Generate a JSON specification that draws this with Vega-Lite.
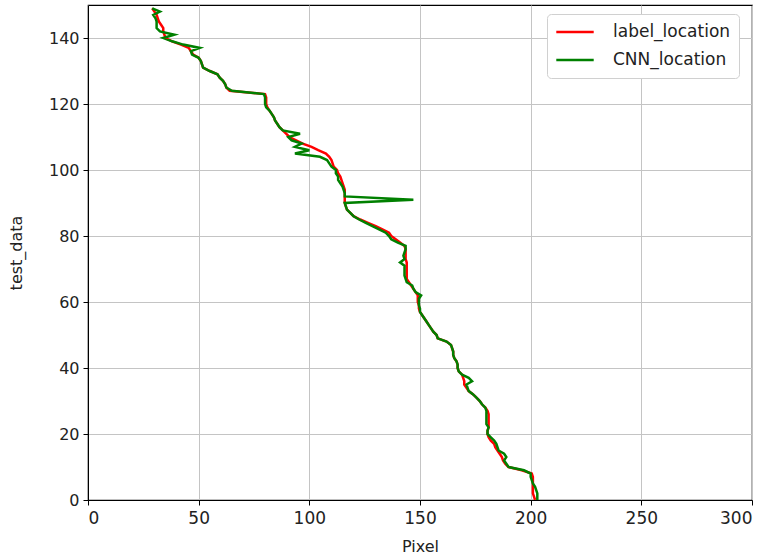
{
  "$schema": "https://vega.github.io/schema/vega-lite/v6.json",
  "width": 664,
  "height": 495,
  "autosize": {"type": "none"},
  "padding": {"left": 88, "top": 5, "right": 17, "bottom": 57},
  "background": "white",
  "config": {
    "view": {"stroke": "black", "strokeWidth": 1.2},
    "font": "DejaVu Sans",
    "axis": {
      "labelFont": "DejaVu Sans",
      "titleFont": "DejaVu Sans",
      "labelFontSize": 16,
      "titleFontSize": 16,
      "titleFontWeight": "normal",
      "labelColor": "#222",
      "titleColor": "#222",
      "domainColor": "black",
      "tickColor": "black",
      "tickSize": 5,
      "gridColor": "#c4c4c4",
      "gridWidth": 1
    },
    "legend": {"labelFont": "DejaVu Sans", "labelFontSize": 17}
  },
  "data": {
    "values": [
      {"i":0,"label_location":202,"CNN_location":203},
      {"i":1,"label_location":201.5,"CNN_location":203},
      {"i":2,"label_location":201,"CNN_location":203},
      {"i":3,"label_location":201,"CNN_location":202.5},
      {"i":4,"label_location":201,"CNN_location":202},
      {"i":5,"label_location":201,"CNN_location":201},
      {"i":6,"label_location":201,"CNN_location":200.5},
      {"i":7,"label_location":201,"CNN_location":200},
      {"i":8,"label_location":200.5,"CNN_location":200},
      {"i":9,"label_location":196,"CNN_location":197},
      {"i":10,"label_location":190,"CNN_location":190},
      {"i":11,"label_location":188.5,"CNN_location":189},
      {"i":12,"label_location":187.5,"CNN_location":188},
      {"i":13,"label_location":187,"CNN_location":189},
      {"i":14,"label_location":186,"CNN_location":188},
      {"i":15,"label_location":185,"CNN_location":185.5},
      {"i":16,"label_location":184,"CNN_location":185},
      {"i":17,"label_location":183.5,"CNN_location":184.5},
      {"i":18,"label_location":182,"CNN_location":183.5},
      {"i":19,"label_location":181,"CNN_location":182},
      {"i":20,"label_location":180.5,"CNN_location":180.5},
      {"i":21,"label_location":180.5,"CNN_location":180.5},
      {"i":22,"label_location":181,"CNN_location":181},
      {"i":23,"label_location":181,"CNN_location":180},
      {"i":24,"label_location":181,"CNN_location":180},
      {"i":25,"label_location":181,"CNN_location":180},
      {"i":26,"label_location":181,"CNN_location":180},
      {"i":27,"label_location":180.5,"CNN_location":180},
      {"i":28,"label_location":179.5,"CNN_location":179.5},
      {"i":29,"label_location":178,"CNN_location":178},
      {"i":30,"label_location":177,"CNN_location":177},
      {"i":31,"label_location":175.5,"CNN_location":175.5},
      {"i":32,"label_location":174,"CNN_location":174},
      {"i":33,"label_location":172,"CNN_location":172},
      {"i":34,"label_location":171,"CNN_location":171.5},
      {"i":35,"label_location":170,"CNN_location":171},
      {"i":36,"label_location":170,"CNN_location":173.5},
      {"i":37,"label_location":169.5,"CNN_location":172},
      {"i":38,"label_location":169,"CNN_location":169},
      {"i":39,"label_location":167.5,"CNN_location":167.5},
      {"i":40,"label_location":167,"CNN_location":167},
      {"i":41,"label_location":167,"CNN_location":167},
      {"i":42,"label_location":166.5,"CNN_location":166.5},
      {"i":43,"label_location":165.5,"CNN_location":165.5},
      {"i":44,"label_location":165,"CNN_location":165},
      {"i":45,"label_location":165,"CNN_location":165},
      {"i":46,"label_location":164.5,"CNN_location":164.5},
      {"i":47,"label_location":164,"CNN_location":164},
      {"i":48,"label_location":162,"CNN_location":162},
      {"i":49,"label_location":158,"CNN_location":158},
      {"i":50,"label_location":157.5,"CNN_location":157.5},
      {"i":51,"label_location":156,"CNN_location":156},
      {"i":52,"label_location":155,"CNN_location":155},
      {"i":53,"label_location":154,"CNN_location":154},
      {"i":54,"label_location":153,"CNN_location":153},
      {"i":55,"label_location":152,"CNN_location":152},
      {"i":56,"label_location":151,"CNN_location":151},
      {"i":57,"label_location":150,"CNN_location":150},
      {"i":58,"label_location":149.5,"CNN_location":150},
      {"i":59,"label_location":149.5,"CNN_location":149.5},
      {"i":60,"label_location":149,"CNN_location":149.5},
      {"i":61,"label_location":149,"CNN_location":149.5},
      {"i":62,"label_location":149,"CNN_location":150.5},
      {"i":63,"label_location":148,"CNN_location":148},
      {"i":64,"label_location":147,"CNN_location":147},
      {"i":65,"label_location":146,"CNN_location":146.5},
      {"i":66,"label_location":145,"CNN_location":144},
      {"i":67,"label_location":144,"CNN_location":143.5},
      {"i":68,"label_location":144,"CNN_location":143},
      {"i":69,"label_location":144,"CNN_location":143},
      {"i":70,"label_location":144,"CNN_location":143},
      {"i":71,"label_location":144,"CNN_location":143},
      {"i":72,"label_location":144,"CNN_location":141},
      {"i":73,"label_location":143.5,"CNN_location":143},
      {"i":74,"label_location":143.5,"CNN_location":142.5},
      {"i":75,"label_location":143.5,"CNN_location":143},
      {"i":76,"label_location":143.5,"CNN_location":143.5},
      {"i":77,"label_location":143,"CNN_location":143.5},
      {"i":78,"label_location":141,"CNN_location":140},
      {"i":79,"label_location":139,"CNN_location":137},
      {"i":80,"label_location":137,"CNN_location":136},
      {"i":81,"label_location":136,"CNN_location":134.5},
      {"i":82,"label_location":133,"CNN_location":131.5},
      {"i":83,"label_location":130,"CNN_location":128.5},
      {"i":84,"label_location":126.5,"CNN_location":125.5},
      {"i":85,"label_location":123,"CNN_location":122.5},
      {"i":86,"label_location":120,"CNN_location":120},
      {"i":87,"label_location":118.5,"CNN_location":118.5},
      {"i":88,"label_location":117,"CNN_location":117},
      {"i":89,"label_location":116.5,"CNN_location":116.5},
      {"i":90,"label_location":116,"CNN_location":116},
      {"i":91,"label_location":116,"CNN_location":147},
      {"i":92,"label_location":116,"CNN_location":116},
      {"i":93,"label_location":116,"CNN_location":116},
      {"i":94,"label_location":116,"CNN_location":115.5},
      {"i":95,"label_location":115.5,"CNN_location":115},
      {"i":96,"label_location":115,"CNN_location":114},
      {"i":97,"label_location":114.5,"CNN_location":113},
      {"i":98,"label_location":114,"CNN_location":113},
      {"i":99,"label_location":113,"CNN_location":112},
      {"i":100,"label_location":112.5,"CNN_location":112},
      {"i":101,"label_location":111,"CNN_location":110},
      {"i":102,"label_location":110.5,"CNN_location":109},
      {"i":103,"label_location":110,"CNN_location":108},
      {"i":104,"label_location":109,"CNN_location":104.8},
      {"i":105,"label_location":107.5,"CNN_location":93.5},
      {"i":106,"label_location":104,"CNN_location":100},
      {"i":107,"label_location":101,"CNN_location":93.5},
      {"i":108,"label_location":97,"CNN_location":96.5},
      {"i":109,"label_location":94,"CNN_location":92},
      {"i":110,"label_location":91,"CNN_location":90.5},
      {"i":111,"label_location":89.5,"CNN_location":95.8},
      {"i":112,"label_location":88,"CNN_location":88},
      {"i":113,"label_location":86.5,"CNN_location":86.5},
      {"i":114,"label_location":85.5,"CNN_location":85.5},
      {"i":115,"label_location":84.5,"CNN_location":84.5},
      {"i":116,"label_location":84,"CNN_location":84},
      {"i":117,"label_location":83,"CNN_location":83},
      {"i":118,"label_location":82,"CNN_location":82},
      {"i":119,"label_location":81,"CNN_location":80.5},
      {"i":120,"label_location":80.5,"CNN_location":80},
      {"i":121,"label_location":80.5,"CNN_location":80},
      {"i":122,"label_location":80.5,"CNN_location":80},
      {"i":123,"label_location":80,"CNN_location":79.5},
      {"i":124,"label_location":64,"CNN_location":65},
      {"i":125,"label_location":62.5,"CNN_location":62.5},
      {"i":126,"label_location":62,"CNN_location":62},
      {"i":127,"label_location":61,"CNN_location":61},
      {"i":128,"label_location":59.5,"CNN_location":59.5},
      {"i":129,"label_location":58.5,"CNN_location":58.5},
      {"i":130,"label_location":55,"CNN_location":55},
      {"i":131,"label_location":52,"CNN_location":52},
      {"i":132,"label_location":51.5,"CNN_location":51.5},
      {"i":133,"label_location":51,"CNN_location":51},
      {"i":134,"label_location":50,"CNN_location":50},
      {"i":135,"label_location":47.5,"CNN_location":47},
      {"i":136,"label_location":46.5,"CNN_location":46.5},
      {"i":137,"label_location":45.5,"CNN_location":50.5},
      {"i":138,"label_location":42,"CNN_location":43},
      {"i":139,"label_location":38,"CNN_location":38},
      {"i":140,"label_location":35,"CNN_location":34},
      {"i":141,"label_location":34.5,"CNN_location":39},
      {"i":142,"label_location":34,"CNN_location":32.5},
      {"i":143,"label_location":34,"CNN_location":31},
      {"i":144,"label_location":33,"CNN_location":31},
      {"i":145,"label_location":32,"CNN_location":31},
      {"i":146,"label_location":31.5,"CNN_location":30.5},
      {"i":147,"label_location":31,"CNN_location":29.5},
      {"i":148,"label_location":30,"CNN_location":32.5},
      {"i":149,"label_location":29,"CNN_location":29}
    ]
  },
  "transform": [
    {"fold": ["label_location", "CNN_location"], "as": ["series", "pixel"]}
  ],
  "mark": {"type": "line", "strokeWidth": 2.5, "clip": true},
  "encoding": {
    "x": {
      "field": "pixel",
      "type": "quantitative",
      "title": "Pixel",
      "scale": {"domain": [0, 300], "nice": false, "zero": false},
      "axis": {"values": [0, 50, 100, 150, 200, 250, 300], "labelPadding": 5, "titlePadding": 12, "labelFontSize": 17}
    },
    "y": {
      "field": "i",
      "type": "quantitative",
      "title": "test_data",
      "scale": {"domain": [0, 150], "nice": false},
      "axis": {"values": [0, 20, 40, 60, 80, 100, 120, 140], "labelPadding": 4, "titlePadding": 24}
    },
    "order": {"field": "i", "type": "quantitative"},
    "color": {
      "field": "series",
      "type": "nominal",
      "scale": {"domain": ["label_location", "CNN_location"], "range": ["#ff0000", "#008000"]},
      "legend": {
        "title": null,
        "orient": "none",
        "legendX": 459,
        "legendY": 9,
        "symbolType": "stroke",
        "symbolSize": 1400,
        "symbolStrokeWidth": 2.5,
        "clipHeight": 20,
        "labelFontSize": 17,
        "labelColor": "#222",
        "rowPadding": 8,
        "padding": 8,
        "fillColor": "white",
        "strokeColor": "#d0d0d0",
        "cornerRadius": 4,
        "labelOffset": 18
      }
    }
  }
}
